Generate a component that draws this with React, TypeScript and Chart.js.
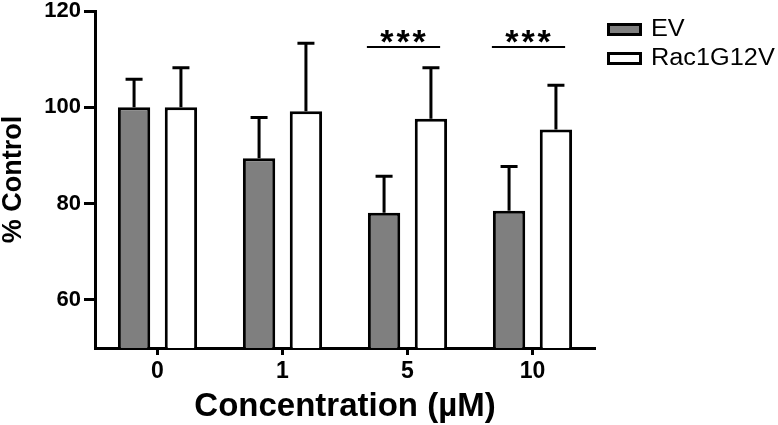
import { useEffect, useRef } from 'react';
import { Chart, registerables } from 'chart.js';

Chart.register(...registerables);

const categories = ['0', '1', '5', '10'];
const seriesLabels = ['EV', 'Rac1G12V'];
const evValues = [100, 89.4, 78.1, 78.5];
const evErrors = [5.8, 8.5, 7.6, 9.2];
const racValues = [100, 99.2, 97.6, 95.4];
const racErrors = [8.2, 14.1, 10.6, 9.2];
const yTicks = [60, 80, 100, 120];
const sigCategories = ['5', '10'];
const sigLevel = 112.5;
const sigLabel = '***';

const FONT = '"Liberation Sans", Arial, sans-serif';

const errorBarPlugin = {
  id: 'errorBars',
  afterDatasetsDraw(chart: any) {
    const { ctx } = chart;
    const y = chart.scales.y;
    chart.data.datasets.forEach((ds: any, di: number) => {
      const meta = chart.getDatasetMeta(di);
      meta.data.forEach((bar: any, i: number) => {
        const x = bar.x;
        const top = y.getPixelForValue(ds.data[i] + ds.errors[i]);
        ctx.save();
        ctx.strokeStyle = '#000';
        ctx.lineWidth = 3;
        ctx.beginPath();
        ctx.moveTo(x, bar.y);
        ctx.lineTo(x, top);
        ctx.moveTo(x - 8.5, top);
        ctx.lineTo(x + 8.5, top);
        ctx.stroke();
        ctx.restore();
      });
    });
  },
};

const sigPlugin = {
  id: 'sigMarks',
  afterDatasetsDraw(chart: any) {
    const { ctx } = chart;
    const y = chart.scales.y;
    const m0 = chart.getDatasetMeta(0);
    const m1 = chart.getDatasetMeta(1);
    sigCategories.forEach((cat) => {
      const i = categories.indexOf(cat);
      const b0 = m0.data[i];
      const b1 = m1.data[i];
      const x1 = b0.x - b0.width / 2 - 1;
      const x2 = b1.x + b1.width / 2 - 7;
      const ly = y.getPixelForValue(sigLevel);
      ctx.save();
      ctx.strokeStyle = '#000';
      ctx.lineWidth = 2;
      ctx.beginPath();
      ctx.moveTo(x1, ly);
      ctx.lineTo(x2, ly);
      ctx.stroke();
      ctx.fillStyle = '#000';
      ctx.font = `bold 34px ${FONT}`;
      (ctx as any).letterSpacing = '3px';
      ctx.textAlign = 'center';
      ctx.textBaseline = 'alphabetic';
      ctx.fillText(sigLabel, (x1 + x2) / 2 + 1, ly + 6);
      ctx.restore();
    });
  },
};

const legendPlugin = {
  id: 'boxLegend',
  afterDraw(chart: any) {
    const { ctx } = chart;
    const left = chart.chartArea.right + 12;
    chart.data.datasets.forEach((ds: any, i: number) => {
      const top = 23 + i * 29;
      ctx.save();
      ctx.fillStyle = ds.backgroundColor;
      ctx.fillRect(left, top, 35, 13);
      ctx.strokeStyle = '#000';
      ctx.lineWidth = 3;
      ctx.strokeRect(left + 1.5, top + 1.5, 32, 10);
      ctx.fillStyle = '#000';
      ctx.font = `23px ${FONT}`;
      ctx.textAlign = 'left';
      ctx.textBaseline = 'middle';
      ctx.translate(left + 44, top + 7);
      ctx.scale(1.1, 1);
      ctx.fillText(ds.label, 0, 0);
      ctx.restore();
    });
  },
};

export default function App() {
  const ref = useRef<HTMLCanvasElement | null>(null);
  useEffect(() => {
    if (!ref.current) return;
    const chart = new Chart(ref.current, {
      type: 'bar',
      data: {
        labels: categories,
        datasets: [
          {
            label: seriesLabels[0],
            data: evValues,
            errors: evErrors,
            backgroundColor: '#7f7f7f',
            borderColor: '#000',
            borderWidth: 3,
            categoryPercentage: 0.75,
            barPercentage: 0.69,
          } as any,
          {
            label: seriesLabels[1],
            data: racValues,
            errors: racErrors,
            backgroundColor: '#ffffff',
            borderColor: '#000',
            borderWidth: 3,
            categoryPercentage: 0.75,
            barPercentage: 0.69,
          } as any,
        ],
      },
      options: {
        animation: false,
        responsive: true,
        maintainAspectRatio: false,
        layout: { padding: { top: 11, right: 183, left: 0, bottom: 0 } },
        plugins: {
          legend: { display: false },
          tooltip: { enabled: false },
        },
        scales: {
          x: {
            afterFit: (axis: any) => {
              axis.height = 77;
              axis.paddingLeft = 0;
              axis.paddingRight = 0;
            },
            grid: {
              offset: false,
              drawOnChartArea: false,
              drawTicks: true,
              tickLength: 7,
              tickWidth: 3,
              tickColor: '#000',
            },
            border: { display: true, color: '#000', width: 3 },
            ticks: {
              color: '#000',
              padding: 3,
              font: { family: FONT, size: 23, weight: 'bold', lineHeight: 1.2 },
            },
            title: {
              display: true,
              text: 'Concentration (µM)',
              color: '#000',
              padding: { top: 0, bottom: 2 },
              font: { family: FONT, size: 33, weight: 'bold', lineHeight: 1 },
            },
          },
          y: {
            min: 50,
            max: 120,
            afterFit: (axis: any) => {
              axis.width = 95;
              axis.paddingTop = 0;
              axis.paddingBottom = 0;
            },
            afterBuildTicks: (axis: any) => {
              axis.ticks = yTicks.map((v) => ({ value: v }));
            },
            grid: {
              drawOnChartArea: false,
              drawTicks: true,
              tickLength: 11,
              tickWidth: 3,
              tickColor: '#000',
            },
            border: { display: true, color: '#000', width: 3 },
            ticks: {
              color: '#000',
              padding: 3,
              font: { family: FONT, size: 22, weight: 'bold', lineHeight: 1 },
            },
            title: {
              display: true,
              text: '% Control',
              color: '#000',
              padding: { top: 0, bottom: 0 },
              font: { family: FONT, size: 27, weight: 'bold', lineHeight: 1 },
            },
          },
        },
      } as any,
      plugins: [errorBarPlugin, sigPlugin, legendPlugin],
    });
    return () => chart.destroy();
  }, []);
  return (
    <div style={{ position: 'absolute', left: 0, top: 0, width: 778, height: 425, background: '#fff' }}>
      <canvas ref={ref} />
    </div>
  );
}
